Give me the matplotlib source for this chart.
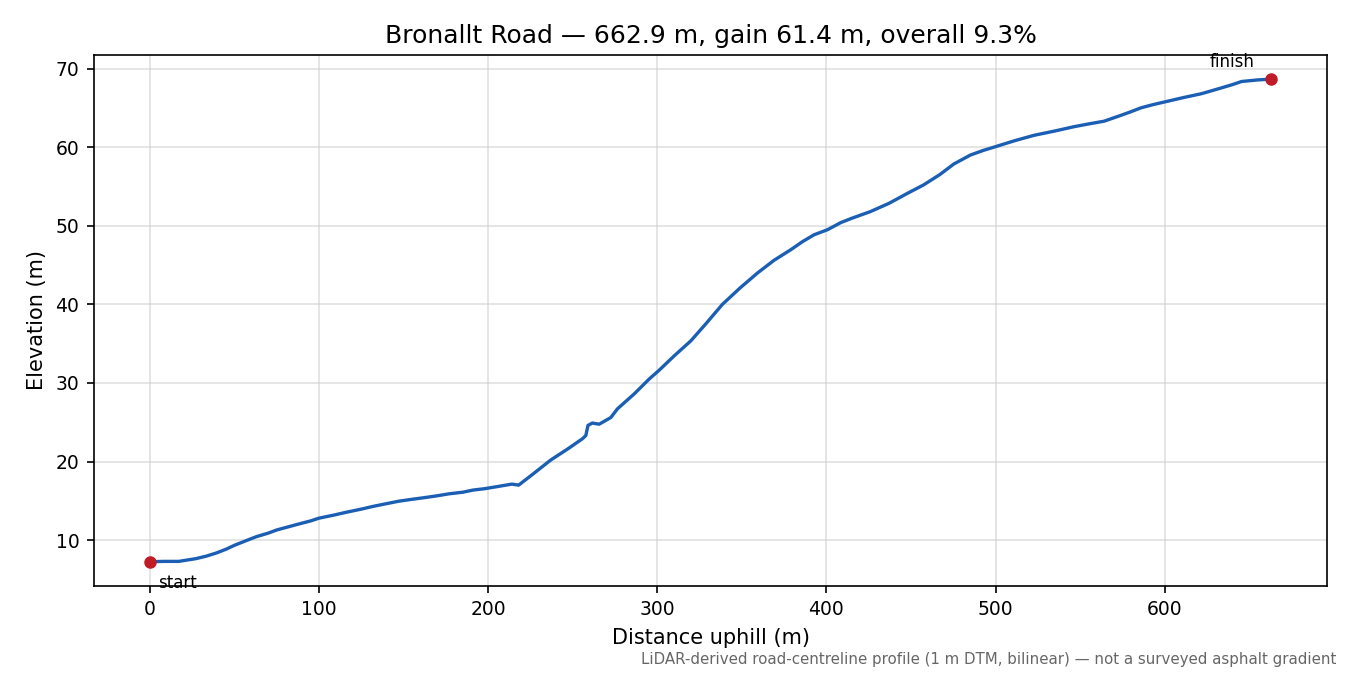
import matplotlib
matplotlib.use("Agg")
import matplotlib.pyplot as plt

distance_m = [0, 8, 17, 27, 33, 39, 45, 50, 57, 63, 70, 75, 87, 95, 100, 109,
              115, 125, 132, 140, 147, 155, 162, 170, 177, 185, 191, 198,
              205, 214, 218, 227, 237, 247, 255.7, 257.7, 259, 261.6, 265.6,
              272.5, 276.4, 286.3, 295.2, 300.8, 310, 319.8, 329, 338.5, 349,
              359.3, 369, 379, 386, 392.8, 400.7, 408.5, 415, 426, 437, 447.7,
              457.5, 467, 475.3, 485.2, 493, 500.6, 511, 522.7, 535, 546.4,
              555, 564.2, 574.2, 580, 586, 593, 601, 611, 621.8, 633, 640,
              645.5, 655, 662.9]
elevation_m = [7.25, 7.3, 7.3, 7.64, 7.95, 8.35, 8.85, 9.35, 9.95, 10.45, 10.9,
               11.3, 12.0, 12.45, 12.8, 13.2, 13.5, 13.95, 14.3, 14.65, 14.95,
               15.2, 15.4, 15.65, 15.9, 16.1, 16.37, 16.55, 16.8, 17.13, 17.0,
               18.5, 20.2, 21.6, 22.9, 23.3, 24.6, 24.9, 24.75, 25.6, 26.7,
               28.6, 30.5, 31.56, 33.45, 35.35, 37.6, 40.0, 42.1, 44.0, 45.6,
               46.96, 48.0, 48.86, 49.5, 50.4, 50.95, 51.8, 52.85, 54.1, 55.2,
               56.5, 57.85, 59.0, 59.6, 60.1, 60.8, 61.5, 62.05, 62.6, 62.95,
               63.3, 64.05, 64.5, 65.0, 65.4, 65.8, 66.3, 66.8, 67.5, 67.95,
               68.35, 68.55, 68.65]

title = "Bronallt Road \u2014 662.9 m, gain 61.4 m, overall 9.3%"
note = "LiDAR-derived road-centreline profile (1 m DTM, bilinear) \u2014 not a surveyed asphalt gradient"

fig, ax = plt.subplots(figsize=(9, 4.5), dpi=150)
fig.subplots_adjust(left=0.0696, right=0.983, top=0.9185, bottom=0.132)

ax.plot(distance_m, elevation_m, color="#1a5fb4", lw=1.6, zorder=3)
ax.scatter([distance_m[0], distance_m[-1]], [elevation_m[0], elevation_m[-1]],
           color="#c01c28", s=25, zorder=4)
ax.annotate("start", (distance_m[0], elevation_m[0]), xytext=(4, -6),
            textcoords="offset points", ha="left", va="top", fontsize=8)
ax.annotate("finish", (distance_m[-1], elevation_m[-1]), xytext=(-8, 4),
            textcoords="offset points", ha="right", va="bottom", fontsize=8)

ax.grid(True, color="#cccccc", alpha=0.6, lw=0.8)
ax.set_axisbelow(True)
ax.set_title(title, fontsize=12)
ax.set_xlabel("Distance uphill (m)", fontsize=10)
ax.set_ylabel("Elevation (m)", fontsize=10)
ax.tick_params(labelsize=9)

fig.text(0.99, 0.012, note, ha="right", va="bottom", fontsize=7.2, color="#666666")

fig.savefig("out.png", dpi=150)
